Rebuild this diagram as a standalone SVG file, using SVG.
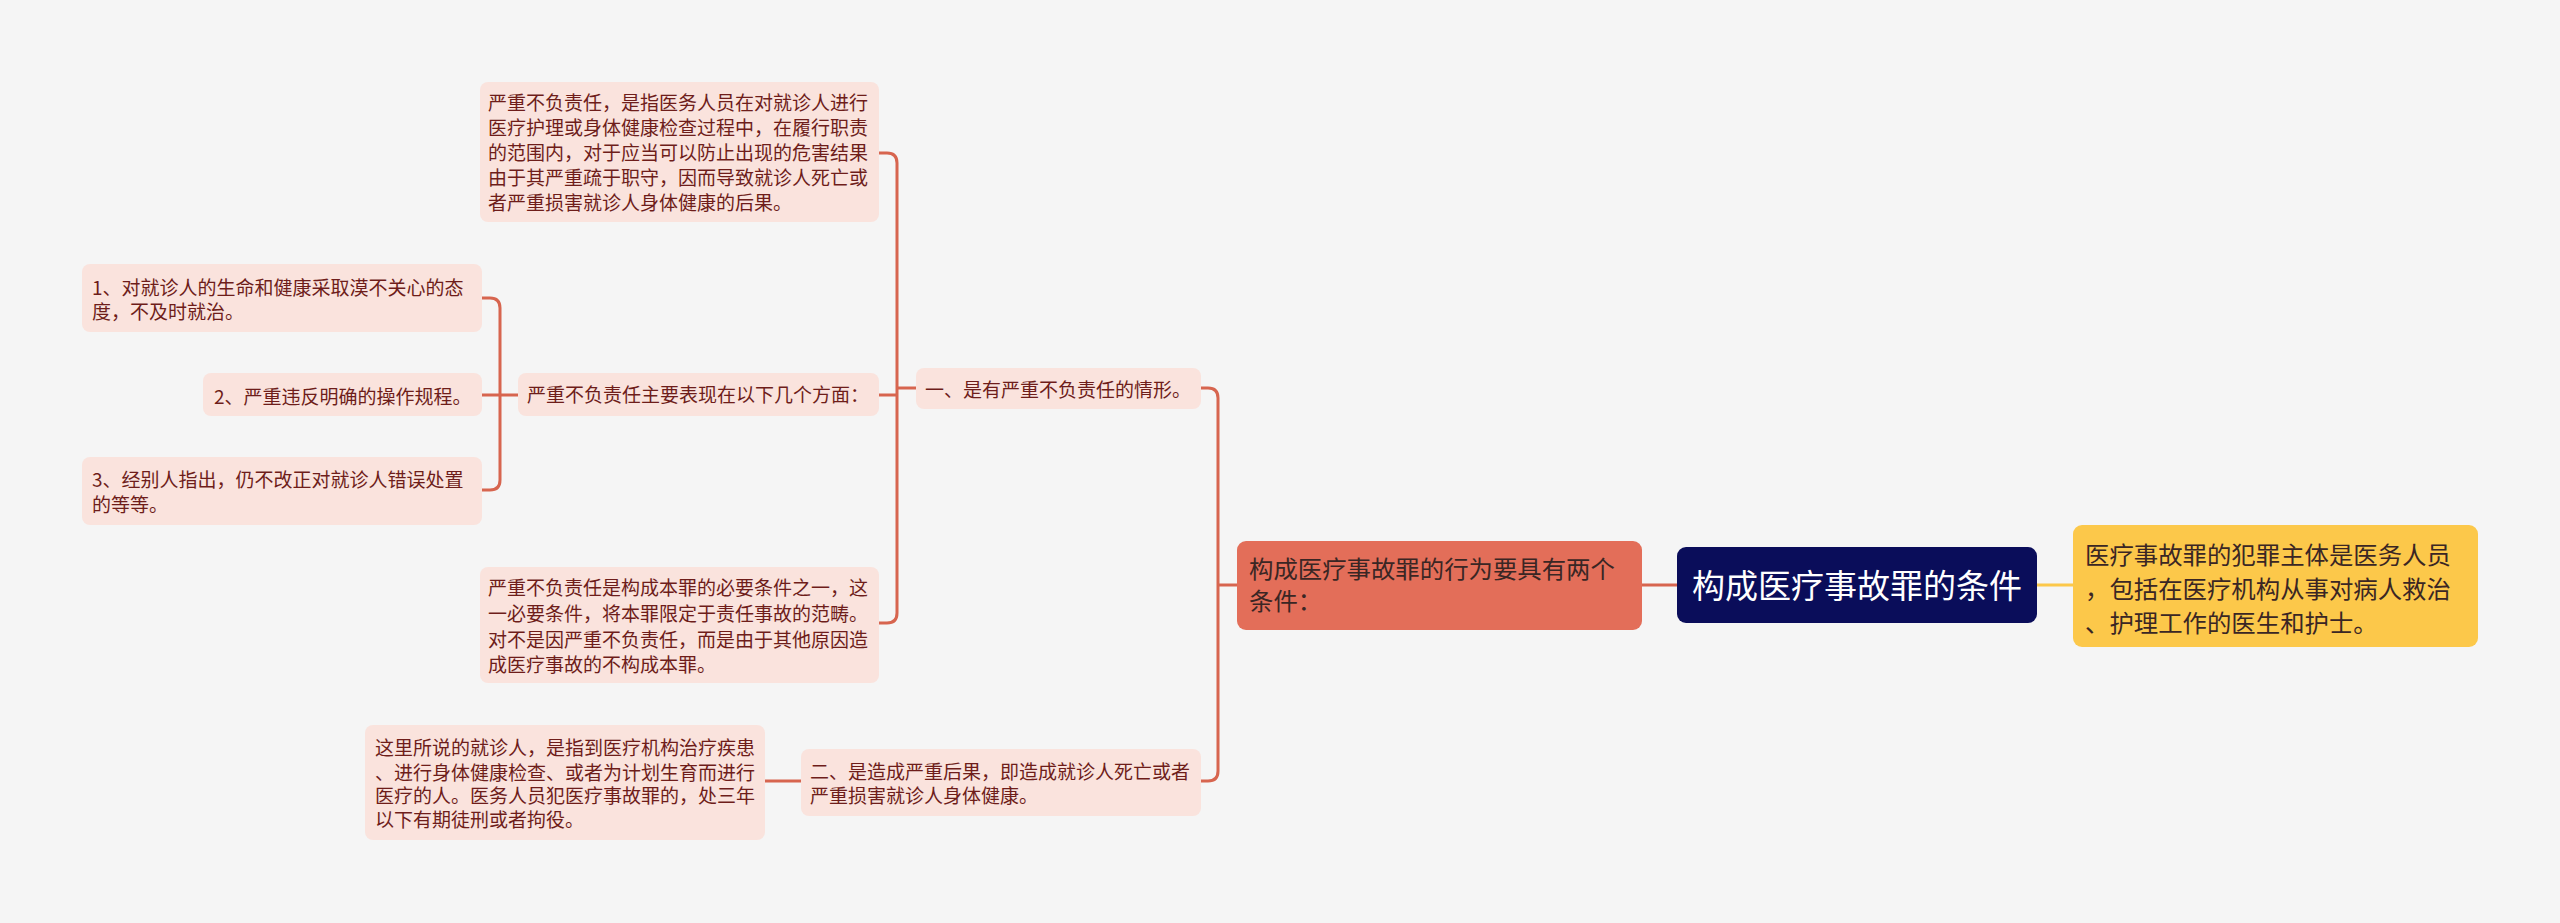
<svg xmlns="http://www.w3.org/2000/svg" width="2560" height="923" viewBox="0 0 2560 923">
<style>
.bg{fill:#f5f5f5}
.lt{fill:#fae3dd}
.tx{font-family:"Noto Sans CJK SC","Noto Sans",sans-serif;font-size:19px;fill:#6e1d1a}
.tx24{font-family:"Noto Sans CJK SC","Noto Sans",sans-serif;font-size:24.4px;fill:#3a2624}
.root{font-family:"Noto Sans CJK SC","Noto Sans",sans-serif;font-size:33px;fill:#ffffff}
.ln{fill:none;stroke:#d7654f;stroke-width:3}
</style>
<rect class="bg" x="0" y="0" width="2560" height="923"/>
<g id="connectors">
<path class="ln" d="M1642 585 H1677"/>
<path d="M2037 585 H2073" fill="none" stroke="#fcc84a" stroke-width="3"/>
<path class="ln" d="M1237 585 H1218"/>
<path class="ln" d="M1201 388 H1208 Q1218 388 1218 398 V771 Q1218 781 1208 781 H1201"/>
<path class="ln" d="M916 388 H897"/>
<path class="ln" d="M879 153 H887 Q897 153 897 163 V613 Q897 623 887 623 H879"/>
<path class="ln" d="M897 395 H879"/>
<path class="ln" d="M518 395 H482"/>
<path class="ln" d="M482 298 H490 Q500 298 500 308 V480 Q500 490 490 490 H482"/>
<path class="ln" d="M801 781 H765"/>
</g>
<g id="root">
<rect x="1677" y="547" width="360" height="76" rx="9" fill="#0a0d5a"/>
<text class="root" x="1857" y="597.5" text-anchor="middle">构成医疗事故罪的条件</text>
</g>
<g id="subject">
<rect x="2073" y="525" width="405" height="122" rx="9" fill="#fcc84a"/>
<text class="tx24" x="2085" y="564">医疗事故罪的犯罪主体是医务人员</text>
<text class="tx24" x="2085" y="598">，包括在医疗机构从事对病人救治</text>
<text class="tx24" x="2085" y="632">、护理工作的医生和护士。</text>
</g>
<g id="behavior">
<rect x="1237" y="541" width="405" height="89" rx="9" fill="#e36e59"/>
<text class="tx24" x="1249" y="578">构成医疗事故罪的行为要具有两个</text>
<text class="tx24" x="1249" y="610">条件：</text>
</g>
<g id="n1">
<rect class="lt" x="916" y="368" width="285" height="41" rx="8"/>
<text class="tx" x="925" y="397">一、是有严重不负责任的情形。</text>
</g>
<g id="n2">
<rect class="lt" x="801" y="749" width="400" height="67" rx="8"/>
<text class="tx" x="810" y="779">二、是造成严重后果，即造成就诊人死亡或者</text>
<text class="tx" x="810" y="803">严重损害就诊人身体健康。</text>
</g>
<g id="n1a">
<rect class="lt" x="480" y="82" width="399" height="140" rx="8"/>
<text class="tx" x="488" y="110">严重不负责任，是指医务人员在对就诊人进行</text>
<text class="tx" x="488" y="135">医疗护理或身体健康检查过程中，在履行职责</text>
<text class="tx" x="488" y="160">的范围内，对于应当可以防止出现的危害结果</text>
<text class="tx" x="488" y="185">由于其严重疏于职守，因而导致就诊人死亡或</text>
<text class="tx" x="488" y="210">者严重损害就诊人身体健康的后果。</text>
</g>
<g id="n1b">
<rect class="lt" x="518" y="373" width="361" height="43" rx="8"/>
<text class="tx" x="527" y="402">严重不负责任主要表现在以下几个方面：</text>
</g>
<g id="n1c">
<rect class="lt" x="480" y="567" width="399" height="116" rx="8"/>
<text class="tx" x="488" y="595">严重不负责任是构成本罪的必要条件之一，这</text>
<text class="tx" x="488" y="621">一必要条件，将本罪限定于责任事故的范畴。</text>
<text class="tx" x="488" y="647">对不是因严重不负责任，而是由于其他原因造</text>
<text class="tx" x="488" y="672">成医疗事故的不构成本罪。</text>
</g>
<g id="b1">
<rect class="lt" x="82" y="264" width="400" height="68" rx="8"/>
<text class="tx" x="92" y="295">1、对就诊人的生命和健康采取漠不关心的态</text>
<text class="tx" x="92" y="319">度，不及时就治。</text>
</g>
<g id="b2">
<rect class="lt" x="203" y="373" width="279" height="43" rx="8"/>
<text class="tx" x="214" y="404">2、严重违反明确的操作规程。</text>
</g>
<g id="b3">
<rect class="lt" x="82" y="457" width="400" height="68" rx="8"/>
<text class="tx" x="92" y="487">3、经别人指出，仍不改正对就诊人错误处置</text>
<text class="tx" x="92" y="512">的等等。</text>
</g>
<g id="n2a">
<rect class="lt" x="365" y="725" width="400" height="115" rx="8"/>
<text class="tx" x="375" y="755">这里所说的就诊人，是指到医疗机构治疗疾患</text>
<text class="tx" x="375" y="780">、进行身体健康检查、或者为计划生育而进行</text>
<text class="tx" x="375" y="803">医疗的人。医务人员犯医疗事故罪的，处三年</text>
<text class="tx" x="375" y="827">以下有期徒刑或者拘役。</text>
</g>
</svg>
